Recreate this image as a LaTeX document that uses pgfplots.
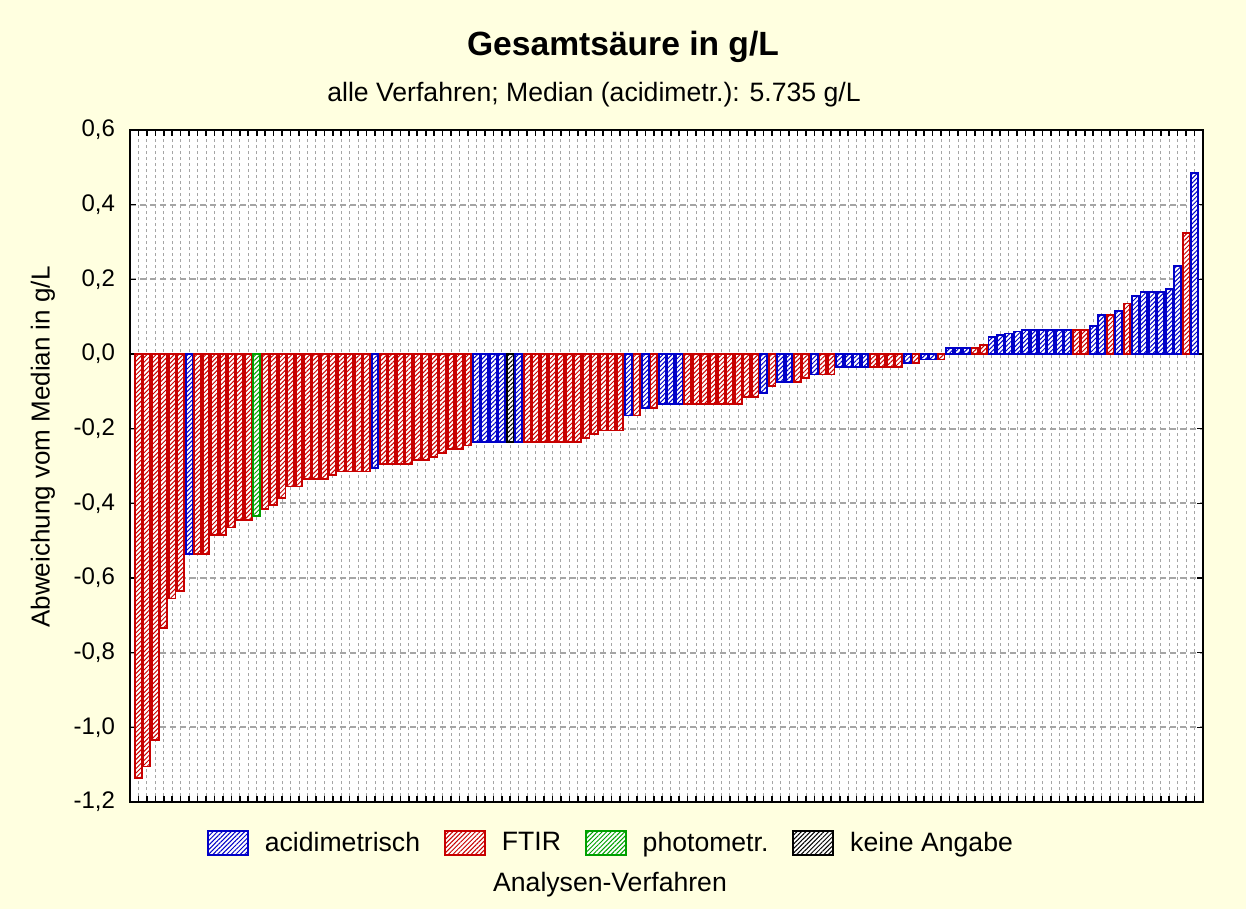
\documentclass[border=0pt]{standalone}
\usepackage{pgfplots}
\pgfplotsset{compat=1.18}
\usepackage{fontspec}
\setmainfont{Liberation Sans}
\usetikzlibrary{patterns.meta}
\definecolor{bgyellow}{RGB}{255,255,224}
\definecolor{cblue}{RGB}{0,0,200}
\definecolor{cred}{RGB}{200,0,0}
\definecolor{cgreen}{RGB}{0,160,0}
\definecolor{cblack}{RGB}{0,0,0}
\definecolor{gridgray}{RGB}{165,165,165}
\tikzset{hatch/.style={preaction={fill=white}, pattern={Lines[angle=45,distance=1.6bp,line width=0.5bp]}, pattern color=#1}}
\begin{document}
\begin{tikzpicture}
\fill[bgyellow] (0,0) rectangle (623bp,454.5bp);
\begin{axis}[
  at={(65bp,53.5bp)}, anchor=south west,
  scale only axis, width=536.5bp, height=336bp,
  xmin=0, xmax=127, ymin=-1.2, ymax=0.6,
  ybar, bar width=0.79,
  axis background/.style={fill=white},
  axis line style={line width=1bp, black},
  xtick={1,...,126}, xticklabels={},
  ytick={-1.2,-1.0,-0.8,-0.6,-0.4,-0.2,0,0.2,0.4,0.6},
  yticklabels={{-1,2},{-1,0},{-0,8},{-0,6},{-0,4},{-0,2},{0,0},{0,2},{0,4},{0,6}},
  tick align=inside, tick pos=both,
  major tick length=3bp,
  tick style={black, line width=0.8bp},
  yticklabel style={font=\fontsize{12bp}{14bp}\selectfont, xshift=-4bp},
  grid=major,
  x grid style={gridgray, line width=0.4bp, dash pattern=on 1.5bp off 1.5bp},
  y grid style={gridgray, line width=0.9bp, dash pattern=on 3bp off 2bp},
  legend columns=4,
  legend style={draw=none, fill=none, at={(0.4492,-0.061)}, anchor=center,
    font=\fontsize{13.3bp}{16bp}\selectfont,
    /tikz/every even column/.append style={column sep=10bp}},
  legend image code/.code={\draw[#1] (0bp,-6bp) rectangle (20bp,6bp); \path (26bp,0bp);},
]
% acidimetrisch
\addplot[draw=cblue, hatch=cblue, line width=0.9bp, bar shift=0pt] coordinates {
(7,-0.535) (29,-0.305) (41,-0.235) (42,-0.235) (43,-0.235) (44,-0.235) (46,-0.235)
(59,-0.165) (61,-0.145) (63,-0.135) (64,-0.135) (65,-0.135) (75,-0.105) (77,-0.075) (78,-0.075)
(81,-0.055) (84,-0.035) (85,-0.035) (86,-0.035) (87,-0.035) (92,-0.025) (94,-0.015) (95,-0.015)
(97,0.015) (98,0.015) (99,0.015) (102,0.045) (103,0.050) (104,0.055) (105,0.060)
(106,0.065) (107,0.065) (108,0.065) (109,0.065) (110,0.065) (111,0.065) (114,0.075)
(115,0.105) (117,0.115) (119,0.155) (120,0.165) (121,0.165) (122,0.165) (123,0.175)
(124,0.235) (126,0.485)};
\addlegendentry{acidimetrisch}
% FTIR
\addplot[draw=cred, hatch=cred, line width=0.9bp, bar shift=0pt] coordinates {
(1,-1.135) (2,-1.105) (3,-1.035) (4,-0.735) (5,-0.655) (6,-0.635) (8,-0.535) (9,-0.535)
(10,-0.485) (11,-0.485) (12,-0.465) (13,-0.445) (14,-0.445) (16,-0.415) (17,-0.405) (18,-0.385)
(19,-0.355) (20,-0.355) (21,-0.335) (22,-0.335) (23,-0.335) (24,-0.325) (25,-0.315) (26,-0.315)
(27,-0.315) (28,-0.315) (30,-0.295) (31,-0.295) (32,-0.295) (33,-0.295) (34,-0.285) (35,-0.285)
(36,-0.275) (37,-0.265) (38,-0.255) (39,-0.255) (40,-0.245)
(47,-0.235) (48,-0.235) (49,-0.235) (50,-0.235) (51,-0.235) (52,-0.235) (53,-0.235)
(54,-0.225) (55,-0.215) (56,-0.205) (57,-0.205) (58,-0.205) (60,-0.165) (62,-0.145)
(66,-0.135) (67,-0.135) (68,-0.135) (69,-0.135) (70,-0.135) (71,-0.135) (72,-0.135)
(73,-0.115) (74,-0.115) (76,-0.085) (79,-0.075) (80,-0.065) (82,-0.055) (83,-0.055)
(88,-0.035) (89,-0.035) (90,-0.035) (91,-0.035) (93,-0.025) (96,-0.015) (100,0.015) (101,0.025)
(112,0.065) (113,0.065) (116,0.105) (118,0.135) (125,0.325)};
\addlegendentry{FTIR}
% photometr.
\addplot[draw=cgreen, hatch=cgreen, line width=0.9bp, bar shift=0pt] coordinates {(15,-0.435)};
\addlegendentry{photometr.}
% keine Angabe
\addplot[draw=cblack, hatch=cblack, line width=0.9bp, bar shift=0pt] coordinates {(45,-0.235)};
\addlegendentry{keine Angabe}
\end{axis}
\node[font=\fontsize{16.8bp}{20bp}\selectfont\bfseries] at (311.5bp,431bp) {Gesamtsäure in g/L};
\node[font=\fontsize{13.3bp}{16bp}\selectfont] at (297bp,407bp) {alle Verfahren; Median (acidimetr.): 5.735 g/L};
\node[font=\fontsize{13bp}{16bp}\selectfont, rotate=90] at (21.5bp,231bp) {Abweichung vom Median in g/L};
\node[font=\fontsize{13.3bp}{16bp}\selectfont] at (305bp,12bp) {Analysen-Verfahren};
\end{tikzpicture}
\end{document}
